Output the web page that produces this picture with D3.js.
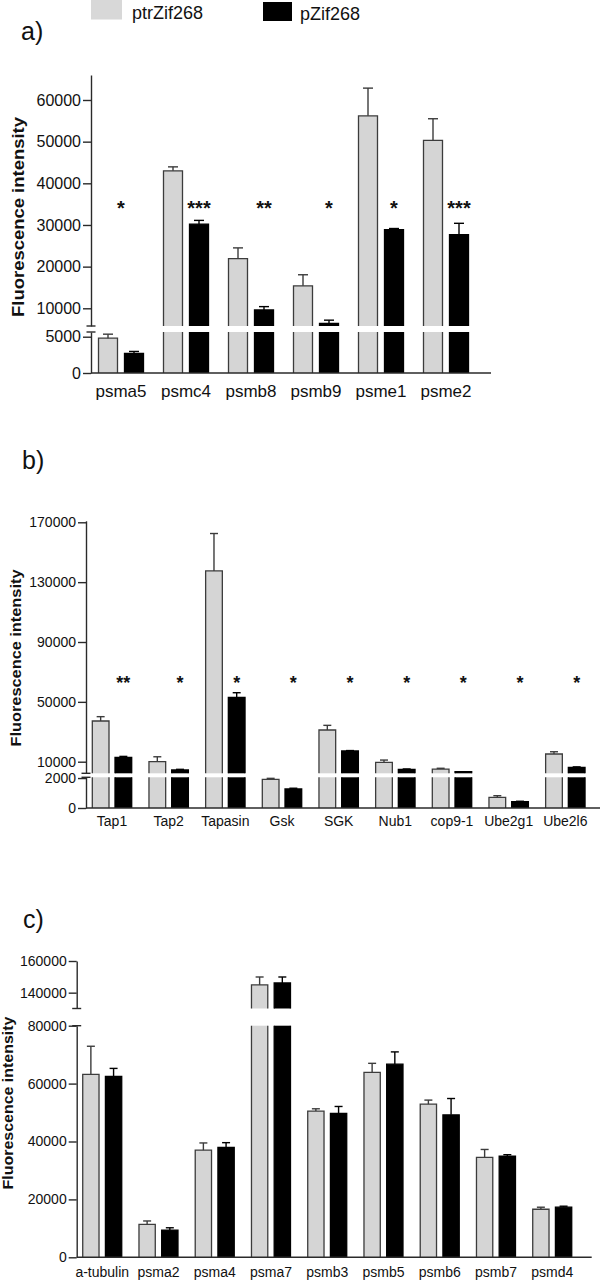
<!DOCTYPE html>
<html><head><meta charset="utf-8">
<script src="https://cdn.jsdelivr.net/npm/d3@7"></script>
<style>
body{margin:0;background:#fff}
svg{display:block}
text{font-family:"Liberation Sans",Arial,Helvetica,sans-serif;fill:#111}
</style>
</head><body>
<svg id="chart" width="601" height="1280"></svg>
<script>
// ---------- DATA ----------
const seriesNames = ['ptrZif268', 'pZif268'];

// Panel a
const catsA = ['psma5', 'psmc4', 'psmb8', 'psmb9', 'psme1', 'psme2'];
const ptrA = [4800, 43000, 21900, 15400, 56200, 50300];
const ptrAErr = [550, 950, 2600, 2650, 6650, 5200];
const pA = [2700, 30200, 9600, 6400, 28900, 27700];
const pAErr = [270, 900, 800, 750, 250, 2700];
const sigA = ['*', '***', '**', '*', '*', '***'];
const sigAnchorA = ['group', 'bar', 'bar', 'bar', 'bar', 'bar'];
const ticksLowA = [0, 5000];
const ticksHighA = [10000, 20000, 30000, 40000, 50000, 60000];

// Panel b
const catsB = ['Tap1', 'Tap2', 'Tapasin', 'Gsk', 'SGK', 'Nub1', 'cop9-1', 'Ube2g1', 'Ube2l6'];
const ptrB = [37200, 10000, 137500, 1910, 31200, 9600, 5100, 710, 15150];
const ptrBErr = [2900, 3300, 25000, 70, 3100, 1500, 500, 110, 1500];
const pB = [12900, 4450, 53000, 1270, 17150, 4900, 3300, 420, 6250];
const pBErr = [650, 450, 3100, 50, 300, 250, 0, 30, 300];
const sigB = ['**', '*', '*', '*', '*', '*', '*', '*', '*'];
const sigAnchorB = ['bar', 'bar', 'bar', 'bar', 'bar', 'bar', 'bar', 'bar', 'bar'];
const ticksLowB = [0, 2000];
const ticksHighB = [10000, 50000, 90000, 130000, 170000];

// Panel c
const catsC = ['a-tubulin', 'psma2', 'psma4', 'psma7', 'psmb3', 'psmb5', 'psmb6', 'psmb7', 'psmd4'];
const ptrC = [63200, 11400, 37000, 144900, 50500, 63900, 52900, 34500, 16600];
const ptrCErr = [9700, 1150, 2500, 5000, 800, 3100, 1400, 2750, 700];
const pC = [62500, 9400, 38000, 146100, 49700, 66700, 49200, 34900, 17300];
const pCErr = [2750, 800, 1600, 3800, 2400, 4250, 5650, 550, 350];
const ticksLowC = [0, 20000, 40000, 60000, 80000];
const ticksHighC = [140000, 160000];

// ---------- STYLE / LAYOUT ----------
const grayFill = '#d5d5d5', grayStroke = '#3c3c3c', axisCol = '#2a2a2a';
const svg = d3.select('#chart');

// Legend
const legendLayout = [
  {rx: 91, ry: 0, rw: 31, rh: 19.5, tx: 132, ty: 19, fill: '#d8d8d8'},
  {rx: 263, ry: 2, rw: 29, rh: 19, tx: 300, ty: 20, fill: '#000'}
];
seriesNames.forEach((name, i) => {
  const L = legendLayout[i];
  svg.append('rect').attr('x', L.rx).attr('y', L.ry).attr('width', L.rw).attr('height', L.rh).attr('fill', L.fill);
  svg.append('text').attr('x', L.tx).attr('y', L.ty).attr('font-size', 18).text(name);
});

function drawPanel(cfg) {
  const g = svg.append('g');
  const n = cfg.cats.length;
  const xb = d3.scaleBand().domain(cfg.cats).range(cfg.band).padding(0);
  const low = d3.scaleLinear().domain(cfg.low.domain).range(cfg.low.range);
  const high = d3.scaleLinear().domain(cfg.high.domain).range(cfg.high.range);
  const lowMax = cfg.low.domain[1], highMin = cfg.high.domain[0];
  const ys = v => v <= lowMax ? low(v) : high(Math.max(v, highMin));

  // panel letter
  g.append('text').attr('x', cfg.letter.x).attr('y', cfg.letter.y).attr('font-size', cfg.letter.size).text(cfg.letter.text);

  // y axes (two segments)
  const axLow = d3.axisLeft(low).tickValues(cfg.ticksLow).tickFormat(d3.format('d')).tickSize(8).tickPadding(2).tickSizeOuter(0);
  const axHigh = d3.axisLeft(high).tickValues(cfg.ticksHigh).tickFormat(d3.format('d')).tickSize(8).tickPadding(2).tickSizeOuter(0);
  [axLow, axHigh].forEach(ax => {
    const a = g.append('g').attr('transform', `translate(${cfg.axisX},0)`).call(ax);
    a.selectAll('path,line').attr('stroke', axisCol).attr('stroke-width', 1.4);
    a.selectAll('text').attr('font-size', cfg.tickFont).attr('fill', '#111').style('font-family', '"Liberation Sans",Arial,sans-serif');
  });
  // break caps
  [cfg.low.range[1], cfg.high.range[0]].forEach(yy => {
    g.append('line').attr('x1', cfg.axisX - 4.5).attr('x2', cfg.axisX + 4.5).attr('y1', yy).attr('y2', yy)
      .attr('stroke', axisCol).attr('stroke-width', 1.4);
  });
  if (cfg.topCap) {
    const yy = cfg.high.range[1];
    g.append('line').attr('x1', cfg.axisX - 8).attr('x2', cfg.axisX).attr('y1', yy).attr('y2', yy).attr('stroke', axisCol).attr('stroke-width', 1.4);
  }

  // bars
  const series = [
    {vals: cfg.ptr, err: cfg.ptrErr, off: -cfg.gap / 2 - cfg.barW, fill: grayFill, stroke: grayStroke},
    {vals: cfg.p, err: cfg.pErr, off: cfg.gap / 2, fill: '#000', stroke: '#000'}
  ];
  series.forEach(s => {
    cfg.cats.forEach((c, i) => {
      const v = s.vals[i];
      const cx = xb(c) + xb.bandwidth() / 2;
      const x0 = cx + s.off, x1 = x0 + cfg.barW;
      const y0 = low(0);
      const segs = [];
      if (v <= lowMax) segs.push([y0, low(v), true]);
      else {
        segs.push([y0, low(lowMax), false]);
        segs.push([high(highMin), high(v), true]);
      }
      segs.forEach(([yb, yt, closed]) => {
        g.append('rect').attr('x', x0).attr('y', yt).attr('width', cfg.barW).attr('height', Math.max(0, yb - yt)).attr('fill', s.fill);
        const p = d3.path();
        p.moveTo(x0, yb); p.lineTo(x0, yt);
        if (closed) p.lineTo(x1, yt); else p.moveTo(x1, yt);
        p.lineTo(x1, yb);
        g.append('path').attr('d', p.toString()).attr('fill', 'none').attr('stroke', s.stroke).attr('stroke-width', 1.3);
      });
      // error bar
      const e = s.err[i];
      if (e > 0) {
        const yt = ys(v), ye = ys(v + e);
        g.append('line').attr('x1', cx + s.off + cfg.barW / 2).attr('x2', cx + s.off + cfg.barW / 2).attr('y1', yt).attr('y2', ye)
          .attr('stroke', s.stroke).attr('stroke-width', 1.4);
        g.append('line').attr('x1', cx + s.off + cfg.barW / 2 - cfg.capW / 2).attr('x2', cx + s.off + cfg.barW / 2 + cfg.capW / 2)
          .attr('y1', ye).attr('y2', ye).attr('stroke', s.stroke).attr('stroke-width', 1.4);
      }
    });
  });

  // x axis baseline
  g.append('line').attr('x1', cfg.axisX).attr('x2', cfg.xEnd).attr('y1', low(0)).attr('y2', low(0)).attr('stroke', axisCol).attr('stroke-width', 1.4);
  const axX = d3.axisBottom(xb).tickSize(0).tickPadding(cfg.xPad);
  const ax = g.append('g').attr('transform', `translate(0,${low(0)})`).call(axX);
  ax.select('.domain').remove();
  ax.selectAll('text').attr('font-size', cfg.xFont).attr('fill', '#111').style('font-family', '"Liberation Sans",Arial,sans-serif');

  // y label
  g.append('text')
    .attr('transform', `translate(${cfg.ylab.x},${cfg.ylab.y}) rotate(-90)`)
    .attr('text-anchor', 'middle').attr('font-weight', 'bold').attr('font-size', cfg.ylab.size)
    .attr('textLength', cfg.ylab.len).attr('lengthAdjust', 'spacingAndGlyphs')
    .text('Fluorescence intensity');

  // significance stars
  if (cfg.sig) {
    cfg.sig.forEach((s, i) => {
      const c = cfg.cats[i];
      const cx = xb(c) + xb.bandwidth() / 2 + (cfg.sigAnchor[i] === 'bar' ? cfg.gap / 2 + cfg.barW / 2 : 0);
      g.append('text').attr('x', cx).attr('y', cfg.starY + 0.57 * cfg.starSize)
        .attr('text-anchor', 'middle').attr('font-weight', 'bold').attr('font-size', cfg.starSize).text(s);
    });
  }
}

drawPanel({
  cats: catsA, ptr: ptrA, ptrErr: ptrAErr, p: pA, pErr: pAErr, sig: sigA, sigAnchor: sigAnchorA,
  ticksLow: ticksLowA, ticksHigh: ticksHighA,
  axisX: 91, xEnd: 491, band: [88.5, 478.5], barW: 19, gap: 7, capW: 10,
  low: {domain: [0, 5650], range: [373, 332]}, high: {domain: [5750, 66000], range: [326, 75]},
  tickFont: 16, xFont: 17, xPad: 12,
  ylab: {x: 24, y: 217, size: 16, len: 200},
  starY: 204, starSize: 20,
  letter: {text: 'a)', x: 21, y: 40, size: 25}
});

drawPanel({
  cats: catsB, ptr: ptrB, ptrErr: ptrBErr, p: pB, pErr: pBErr, sig: sigB, sigAnchor: sigAnchorB,
  ticksLow: ticksLowB, ticksHigh: ticksHighB,
  axisX: 86, xEnd: 600, band: [83.67, 593.67], barW: 16.7, gap: 6, capW: 8,
  low: {domain: [0, 2050], range: [808, 777.3]}, high: {domain: [2250, 171000], range: [773.3, 520.8]},
  tickFont: 14, xFont: 14, xPad: 8,
  ylab: {x: 21, y: 658, size: 15, len: 177},
  starY: 679, starSize: 18,
  letter: {text: 'b)', x: 22, y: 469, size: 25}
});

drawPanel({
  cats: catsC, ptr: ptrC, ptrErr: ptrCErr, p: pC, pErr: pCErr,
  ticksLow: ticksLowC, ticksHigh: ticksHighC,
  axisX: 76.7, xEnd: 591.7, band: [74.1, 580.35], barW: 16.3, gap: 6.4, capW: 8,
  low: {domain: [0, 80000], range: [1257.3, 1025.7]}, high: {domain: [130000, 160000], range: [1008.5, 961]},
  tickFont: 14, xFont: 14, xPad: 10,
  ylab: {x: 12.5, y: 1103, size: 15, len: 173},
  letter: {text: 'c)', x: 23, y: 928, size: 25}
});
</script>
</body></html>
